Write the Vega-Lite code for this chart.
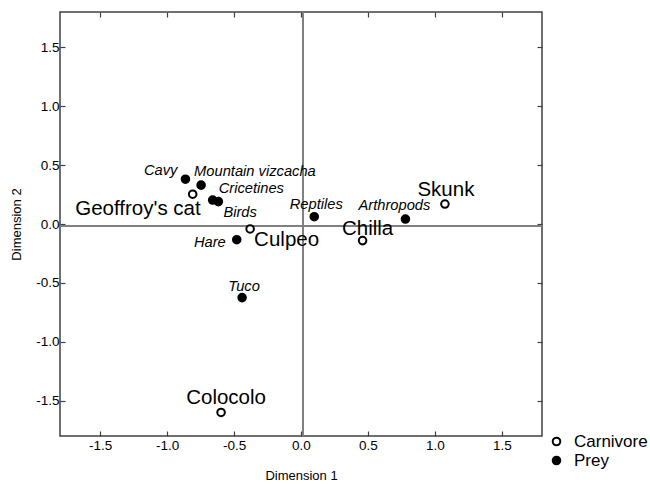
{
  "$schema": "https://vega.github.io/schema/vega-lite/v6.json",
  "width": 482,
  "height": 424,
  "autosize": "none",
  "padding": {"left": 60, "top": 12, "right": 108, "bottom": 48},
  "background": "white",
  "config": {
    "font": "Liberation Sans",
    "view": {"stroke": "#404040", "strokeWidth": 1.5},
    "axis": {
      "grid": false,
      "domain": false,
      "labelFont": "Liberation Sans",
      "labelFontSize": 13.5,
      "labelColor": "black",
      "tickColor": "#404040",
      "tickWidth": 1.2,
      "titleFont": "Liberation Sans",
      "titleFontSize": 13,
      "titleFontWeight": "normal",
      "titleColor": "black"
    },
    "text": {"font": "Liberation Sans", "color": "black", "baseline": "middle"}
  },
  "data": {
    "values": [
      {"name": "Cavy", "group": "Prey", "d1": -0.863, "d2": 0.38},
      {"name": "Mountain vizcacha", "group": "Prey", "d1": -0.746, "d2": 0.33},
      {"name": "Cricetines", "group": "Prey", "d1": -0.66, "d2": 0.203},
      {"name": "Birds", "group": "Prey", "d1": -0.617, "d2": 0.19},
      {"name": "Hare", "group": "Prey", "d1": -0.48, "d2": -0.133},
      {"name": "Tuco", "group": "Prey", "d1": -0.44, "d2": -0.625},
      {"name": "Reptiles", "group": "Prey", "d1": 0.099, "d2": 0.062},
      {"name": "Arthropods", "group": "Prey", "d1": 0.78, "d2": 0.042},
      {"name": "Geoffroy's cat", "group": "Carnivore", "d1": -0.809, "d2": 0.253},
      {"name": "Culpeo", "group": "Carnivore", "d1": -0.38, "d2": -0.042},
      {"name": "Chilla", "group": "Carnivore", "d1": 0.46, "d2": -0.141},
      {"name": "Skunk", "group": "Carnivore", "d1": 1.075, "d2": 0.169},
      {"name": "Colocolo", "group": "Carnivore", "d1": -0.597, "d2": -1.6}
    ]
  },
  "resolve": {"axis": {"x": "independent", "y": "independent"}},
  "layer": [
    {
      "encoding": {
        "x": {"field": "d1", "type": "quantitative", "scale": {"domain": [-1.8, 1.8], "nice": false, "zero": false},
              "axis": {"orient": "bottom", "title": "Dimension 1", "values": [-1.5, -1, -0.5, 0, 0.5, 1, 1.5], "format": ".1f", "labelExpr": "replace(datum.label, '\u2212', '-')", "tickSize": -5, "labelPadding": 7, "titlePadding": 18}},
        "y": {"field": "d2", "type": "quantitative", "scale": {"domain": [-1.8, 1.8], "nice": false, "zero": false},
              "axis": {"orient": "left", "title": "Dimension 2", "values": [-1.5, -1, -0.5, 0, 0.5, 1, 1.5], "format": ".1f", "labelExpr": "replace(datum.label, '\u2212', '-')", "tickSize": -5, "labelPadding": 6, "titlePadding": 12}}
      },
      "layer": [
        {"mark": {"type": "rule", "color": "#808080", "strokeWidth": 1.5}, "encoding": {"y": {"datum": -0.02, "type": "quantitative"}, "x": null}},
        {"mark": {"type": "rule", "color": "#808080", "strokeWidth": 1.5}, "encoding": {"x": {"datum": 0.015, "type": "quantitative"}, "y": null}},
        {
          "mark": {"type": "point", "filled": false, "shape": "circle", "size": 57, "strokeWidth": 2, "stroke": "black", "opacity": 1},
          "encoding": {
            "fill": {"field": "group", "type": "nominal", "scale": {"domain": ["Carnivore", "Prey"], "range": ["white", "black"]},
                     "legend": {"orient": "none", "legendX": 488, "legendY": 421, "title": null, "labelFontSize": 17, "labelFont": "Liberation Sans", "labelColor": "black", "symbolSize": 57, "symbolStrokeWidth": 2, "symbolStrokeColor": "black", "symbolType": "circle", "labelOffset": 9, "rowPadding": 1, "padding": 0}}
          }
        },
        {"transform": [{"filter": "datum.name === 'Cavy'"}], "mark": {"type": "text", "fontSize": 14.7, "fontStyle": "italic", "align": "right", "dx": -8, "dy": -8}, "encoding": {"text": {"field": "name"}}},
        {"transform": [{"filter": "datum.name === 'Mountain vizcacha'"}], "mark": {"type": "text", "fontSize": 14.7, "fontStyle": "italic", "align": "left", "dx": -7, "dy": -13}, "encoding": {"text": {"field": "name"}}},
        {"transform": [{"filter": "datum.name === 'Cricetines'"}], "mark": {"type": "text", "fontSize": 14.7, "fontStyle": "italic", "align": "left", "dx": 6, "dy": -11}, "encoding": {"text": {"field": "name"}}},
        {"transform": [{"filter": "datum.name === 'Birds'"}], "mark": {"type": "text", "fontSize": 14.7, "fontStyle": "italic", "align": "left", "dx": 5, "dy": 11}, "encoding": {"text": {"field": "name"}}},
        {"transform": [{"filter": "datum.name === 'Hare'"}], "mark": {"type": "text", "fontSize": 14.7, "fontStyle": "italic", "align": "right", "dx": -11, "dy": 3}, "encoding": {"text": {"field": "name"}}},
        {"transform": [{"filter": "datum.name === 'Tuco'"}], "mark": {"type": "text", "fontSize": 14.7, "fontStyle": "italic", "align": "center", "dx": 2, "dy": -11}, "encoding": {"text": {"field": "name"}}},
        {"transform": [{"filter": "datum.name === 'Reptiles'"}], "mark": {"type": "text", "fontSize": 14.7, "fontStyle": "italic", "align": "center", "dx": 2, "dy": -12}, "encoding": {"text": {"field": "name"}}},
        {"transform": [{"filter": "datum.name === 'Arthropods'"}], "mark": {"type": "text", "fontSize": 14.7, "fontStyle": "italic", "align": "center", "dx": -11, "dy": -13}, "encoding": {"text": {"field": "name"}}},
        {"transform": [{"filter": "datum.name === \"Geoffroy's cat\""}], "mark": {"type": "text", "fontSize": 20.5, "align": "right", "dx": 8, "dy": 15}, "encoding": {"text": {"field": "name"}}},
        {"transform": [{"filter": "datum.name === 'Culpeo'"}], "mark": {"type": "text", "fontSize": 20.5, "align": "left", "dx": 4, "dy": 11}, "encoding": {"text": {"field": "name"}}},
        {"transform": [{"filter": "datum.name === 'Chilla'"}], "mark": {"type": "text", "fontSize": 20.5, "align": "center", "dx": 5, "dy": -12}, "encoding": {"text": {"field": "name"}}},
        {"transform": [{"filter": "datum.name === 'Skunk'"}], "mark": {"type": "text", "fontSize": 20.5, "align": "center", "dx": 1, "dy": -14}, "encoding": {"text": {"field": "name"}}},
        {"transform": [{"filter": "datum.name === 'Colocolo'"}], "mark": {"type": "text", "fontSize": 20.5, "align": "center", "dx": 5, "dy": -14}, "encoding": {"text": {"field": "name"}}}
      ]
    },
    {
      "mark": {"type": "point", "opacity": 0},
      "encoding": {
        "x": {"field": "d1", "type": "quantitative", "scale": {"domain": [-1.8, 1.8], "nice": false, "zero": false},
              "axis": {"orient": "top", "title": null, "labels": false, "values": [-1.5, -1, -0.5, 0, 0.5, 1, 1.5], "tickSize": -5}},
        "y": {"field": "d2", "type": "quantitative", "scale": {"domain": [-1.8, 1.8], "nice": false, "zero": false},
              "axis": {"orient": "right", "title": null, "labels": false, "values": [-1.5, -1, -0.5, 0, 0.5, 1, 1.5], "tickSize": -5}}
      }
    }
  ]
}
